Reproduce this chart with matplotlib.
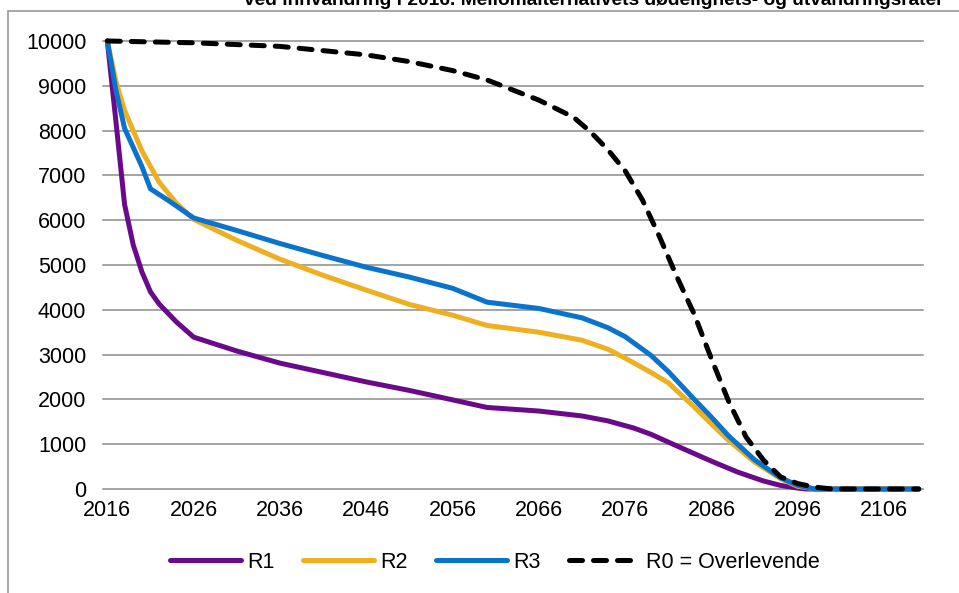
import matplotlib.pyplot as plt
from matplotlib.patches import Rectangle

plt.rcParams['font.family'] = ['Liberation Sans', 'DejaVu Sans']

# data (year, value)
r1_years = [2016, 2017, 2018, 2019, 2020, 2021, 2022, 2024, 2026, 2031, 2036, 2041, 2046, 2051, 2056,
            2060, 2066, 2071, 2074, 2077, 2079, 2082, 2086, 2089, 2092, 2094, 2096, 2097, 2110]
r1_vals = [10000, 8200, 6350, 5450, 4850, 4400, 4130, 3730, 3390, 3080, 2810, 2600, 2390, 2200, 1990,
           1820, 1740, 1630, 1520, 1360, 1220, 960, 620, 380, 180, 80, 20, 0, 0]

r2_years = [2016, 2017, 2018, 2020, 2022, 2024, 2026, 2031, 2036, 2041, 2046, 2051, 2056, 2060, 2066,
            2071, 2074, 2076, 2079, 2081, 2084, 2086, 2088, 2091, 2094, 2096, 2098, 2110]
r2_vals = [10000, 9100, 8450, 7550, 6850, 6380, 6020, 5550, 5130, 4770, 4440, 4120, 3880, 3650, 3500,
           3320, 3120, 2920, 2600, 2370, 1830, 1450, 1080, 600, 230, 60, 0, 0]

r3_years = [2016, 2017, 2018, 2020, 2021, 2023, 2026, 2031, 2036, 2041, 2046, 2051, 2056, 2060, 2066,
            2071, 2074, 2076, 2079, 2081, 2084, 2086, 2088, 2091, 2094, 2096, 2098, 2110]
r3_vals = [10000, 8900, 8050, 7200, 6700, 6450, 6050, 5770, 5480, 5210, 4950, 4730, 4480, 4170, 4030,
           3820, 3600, 3400, 2980, 2620, 2000, 1600, 1180, 650, 250, 80, 0, 0]

r0_years = [2016, 2026, 2036, 2046, 2051, 2056, 2060, 2066, 2070, 2072, 2074, 2076, 2078, 2080, 2082,
            2084, 2086, 2088, 2090, 2092, 2094, 2096, 2098, 2100, 2110]
r0_vals = [10000, 9960, 9880, 9690, 9540, 9340, 9130, 8680, 8300, 7970, 7570, 7100, 6450, 5620, 4730,
           3900, 2900, 1950, 1160, 650, 270, 120, 40, 0, 0]

x_ticks = list(range(2016, 2107, 10))
y_ticks = list(range(0, 10001, 1000))

title = 'ved innvandring i 2016. Mellomalternativets dødelighets- og utvandringsrater'

fig = plt.figure(figsize=(9.59, 5.93), dpi=100)
ax = fig.add_axes([103 / 959, 104 / 593, 820 / 959, 448 / 593])

# chart frame (runs off the right and bottom edges like in the screenshot)
fig.patches.append(Rectangle((8 / 959, -0.1), 1.2, 1 - 11 / 593 + 0.1, transform=fig.transFigure,
                             fill=False, edgecolor='#9a9a9a', linewidth=1.2))

fig.text(594 / 959, 1 - 5 / 593, title, ha='center', va='baseline', fontsize=13.8, fontweight='bold')

for y in y_ticks:
    ax.axhline(y, color='#8c8c8c', linewidth=1.1, zorder=1, clip_on=False)

lw = 3.6
ax.plot(r1_years, r1_vals, color='#6a0a8a', linewidth=lw, label='R1', clip_on=False, zorder=3,
        solid_capstyle='round', solid_joinstyle='round')
ax.plot(r2_years, r2_vals, color='#eeb021', linewidth=lw, label='R2', clip_on=False, zorder=3,
        solid_capstyle='round', solid_joinstyle='round')
ax.plot(r3_years, r3_vals, color='#0a74cc', linewidth=lw, label='R3', clip_on=False, zorder=4,
        solid_capstyle='round', solid_joinstyle='round')
ax.plot(r0_years, r0_vals, color='black', linewidth=lw, dashes=(2.6, 2.2), dash_capstyle='round',
        label='R0 = Overlevende', clip_on=False, zorder=5)

ax.set_xlim(2015.5, 2110.5)
ax.set_ylim(0, 10000)
ax.set_xticks(x_ticks)
ax.set_yticks(y_ticks)
ax.tick_params(length=0, labelsize=15.5, pad=12)
ax.tick_params(axis='x', pad=8)
for s in ax.spines.values():
    s.set_visible(False)

fig.legend(loc='center', bbox_to_anchor=(495 / 959, 1 - 562 / 593), ncol=4, frameon=False,
           fontsize=15.5, handlelength=3.3, handletextpad=0.3, columnspacing=1.3)

fig.savefig('out.png', dpi=100)
